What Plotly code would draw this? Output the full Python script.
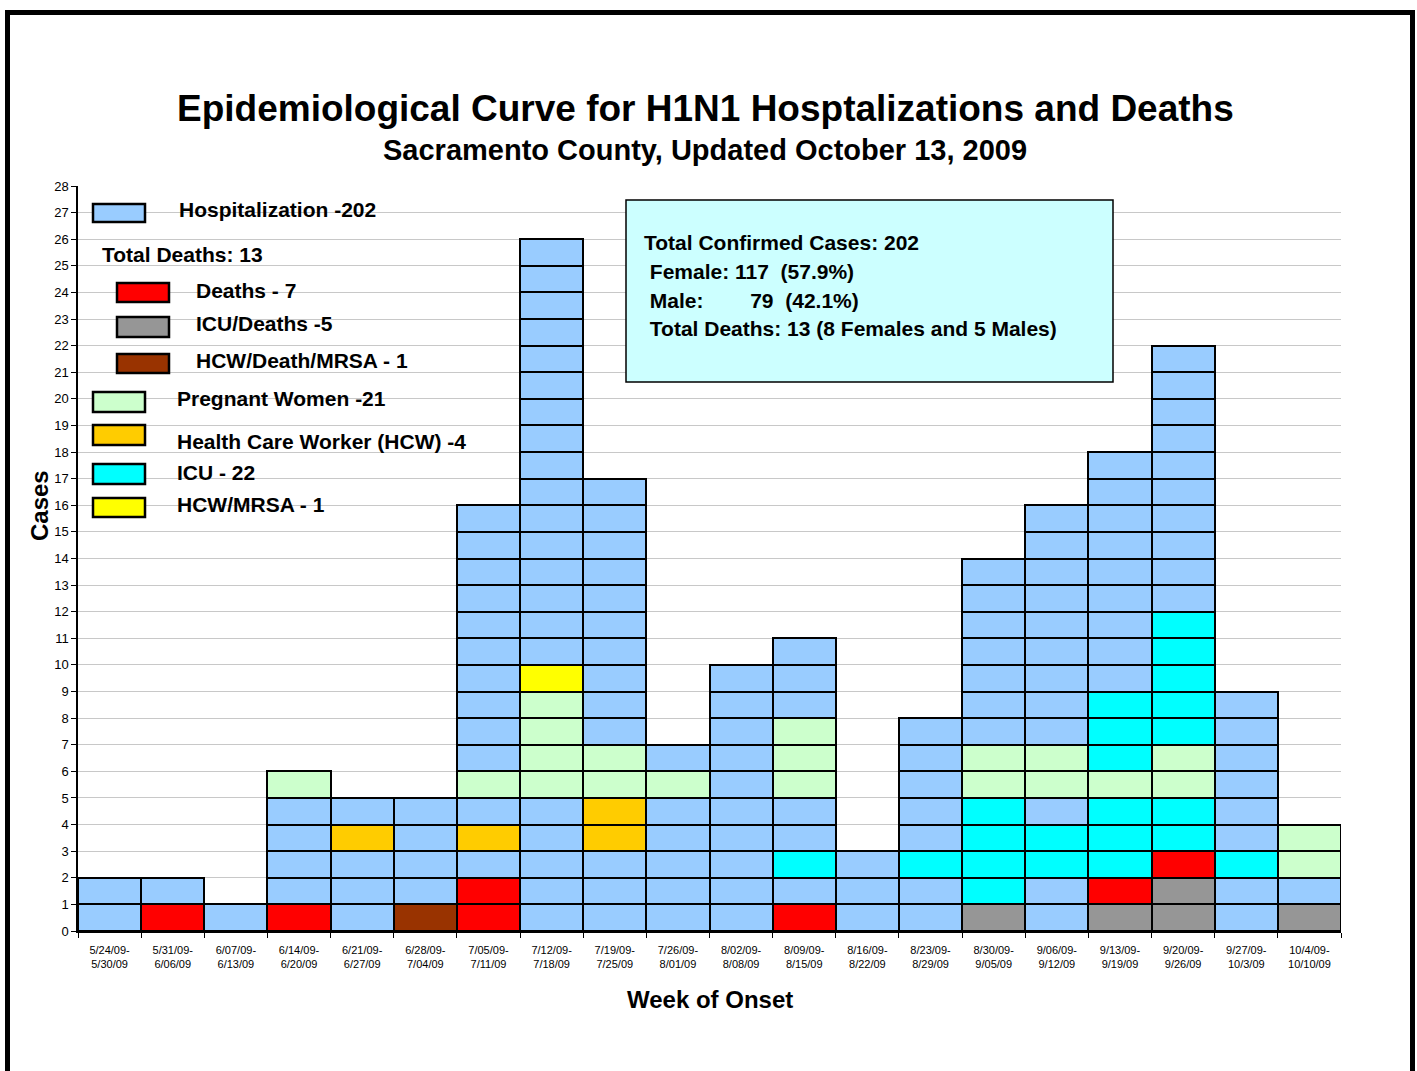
import plotly.graph_objects as go

# ---------------- DATA ----------------
weeks = ["5/24/09-<br>5/30/09", "5/31/09-<br>6/06/09", "6/07/09-<br>6/13/09", "6/14/09-<br>6/20/09",
         "6/21/09-<br>6/27/09", "6/28/09-<br>7/04/09", "7/05/09-<br>7/11/09", "7/12/09-<br>7/18/09",
         "7/19/09-<br>7/25/09", "7/26/09-<br>8/01/09", "8/02/09-<br>8/08/09", "8/09/09-<br>8/15/09",
         "8/16/09-<br>8/22/09", "8/23/09-<br>8/29/09", "8/30/09-<br>9/05/09", "9/06/09-<br>9/12/09",
         "9/13/09-<br>9/19/09", "9/20/09-<br>9/26/09", "9/27/09-<br>10/3/09", "10/4/09-<br>10/10/09"]

# Case categories stacked bottom-to-top for each week (one letter = one case)
# H=Hospitalization, D=Death, G=ICU/Death, B=HCW/Death/MRSA, P=Pregnant, W=HCW, I=ICU, Y=HCW/MRSA
week_cases = [
    "HH",
    "DH",
    "H",
    "DHHHHP",
    "HHHWH",
    "BHHHH",
    "DDHWHP" + "H" * 10,
    "HHHHHPPPPY" + "H" * 16,
    "HHHWWPP" + "H" * 10,
    "HHHHHPH",
    "H" * 10,
    "DHIHHPPPHHH",
    "HHH",
    "HHIHHHHH",
    "GIIIIPP" + "H" * 7,
    "HHIIHPP" + "H" * 9,
    "GDIIIPIII" + "H" * 9,
    "GGDIIPPIIIII" + "H" * 10,
    "HHIHHHHHH",
    "GHPP",
]

category_colors = {
    "H": "#99CCFF", "D": "#FF0000", "G": "#969696", "B": "#993300",
    "P": "#CCFFCC", "W": "#FFCC00", "I": "#00FFFF", "Y": "#FFFF00",
}

legend_labels = ["Hospitalization -202", "Deaths - 7", "ICU/Deaths -5", "HCW/Death/MRSA - 1",
                 "Pregnant Women -21", "Health Care Worker (HCW) -4", "ICU - 22", "HCW/MRSA - 1"]
legend_codes = ["H", "D", "G", "B", "P", "W", "I", "Y"]

title_text = "Epidemiological Curve for H1N1 Hosptalizations and Deaths"
subtitle_text = "Sacramento County, Updated October 13, 2009"
info_lines = ["Total Confirmed Cases: 202", " Female: 117  (57.9%)",
              " Male:        79  (42.1%)", " Total Deaths: 13 (8 Females and 5 Males)"]

# ---------------- LAYOUT GEOMETRY ----------------
W, H = 1417, 1071
ML, MR, MT, MB = 78, 1417 - 1341, 186, 1071 - 931
PW = W - ML - MR
PH = H - MT - MB

def px(x):
    return (x - ML) / PW

def py(y):
    return (H - MB - y) / PH

FONT = "Arial, Liberation Sans, sans-serif"

fig = go.Figure()

max_layers = max(len(s) for s in week_cases)
for k in range(max_layers):
    xs, cols = [], []
    for wi, s in enumerate(week_cases):
        if len(s) > k:
            xs.append(weeks[wi])
            cols.append(category_colors[s[k]])
    fig.add_trace(go.Bar(
        x=xs, y=[1] * len(xs),
        marker=dict(color=cols, line=dict(color="black", width=2.5)),
        showlegend=False, hoverinfo="skip",
    ))

shapes = []
annotations = []

# Outer frame
shapes.append(dict(type="rect", xref="paper", yref="paper",
                   x0=px(7.5), x1=px(1412.5), y0=py(1100), y1=py(12.5),
                   line=dict(color="black", width=5), fillcolor="rgba(0,0,0,0)", layer="above"))

# Titles
annotations.append(dict(text="<b>" + title_text + "</b>", xref="paper", yref="paper",
                        x=px(705), y=py(108), showarrow=False,
                        font=dict(size=37, family=FONT, color="black"), xanchor="center", yanchor="middle"))
annotations.append(dict(text="<b>" + subtitle_text + "</b>", xref="paper", yref="paper",
                        x=px(705), y=py(150), showarrow=False,
                        font=dict(size=29, family=FONT, color="black"), xanchor="center", yanchor="middle"))

# Axis titles
annotations.append(dict(text="<b>Week of Onset</b>", xref="paper", yref="paper",
                        x=px(710), y=py(1000), showarrow=False,
                        font=dict(size=24, family=FONT, color="black"), xanchor="center", yanchor="middle"))
annotations.append(dict(text="<b>Cases</b>", xref="paper", yref="paper",
                        x=px(39), y=py(506), showarrow=False, textangle=-90,
                        font=dict(size=24, family=FONT, color="black"), xanchor="center", yanchor="middle"))

# Legend (custom)
legend_layout = [
    # (swatch x0, x1, y0, y1, text x, text y)
    (93, 145, 204, 222, 177, 209),
    (117, 169, 283, 302, 194, 290),
    (117, 169, 317, 337, 194, 323),
    (117, 169, 354, 373, 194, 360),
    (93, 145, 392, 412, 175, 398),
    (93, 145, 425, 445, 175, 441),
    (93, 145, 464, 484, 175, 473),
    (93, 145, 498, 517, 175, 505),
]
for (x0, x1, y0, y1, tx, ty), code, label in zip(legend_layout, legend_codes, legend_labels):
    shapes.append(dict(type="rect", xref="paper", yref="paper",
                       x0=px(x0), x1=px(x1), y0=py(y1), y1=py(y0),
                       fillcolor=category_colors[code], line=dict(color="black", width=2.5), layer="above"))
    annotations.append(dict(text="<b>" + label + "</b>", xref="paper", yref="paper",
                            x=px(tx), y=py(ty), showarrow=False, xanchor="left", yanchor="middle",
                            font=dict(size=21, family=FONT, color="black")))
annotations.append(dict(text="<b>Total Deaths: 13</b>", xref="paper", yref="paper",
                        x=px(100), y=py(254), showarrow=False, xanchor="left", yanchor="middle",
                        font=dict(size=21, family=FONT, color="black")))

# Info box
shapes.append(dict(type="rect", xref="paper", yref="paper",
                   x0=px(626), x1=px(1113), y0=py(382), y1=py(200),
                   fillcolor="#CCFFFF", line=dict(color="black", width=1.5), layer="above"))
for i, line in enumerate(info_lines):
    annotations.append(dict(text="<b>" + line.replace(" ", "&nbsp;") + "</b>", xref="paper", yref="paper",
                            x=px(642), y=py(243 + i * 28.5), showarrow=False, xanchor="left", yanchor="middle",
                            font=dict(size=21, family=FONT, color="black")))

fig.update_layout(
    width=W, height=H,
    margin=dict(l=ML, r=MR, t=MT, b=MB, autoexpand=False),
    paper_bgcolor="white", plot_bgcolor="white",
    barmode="stack", bargap=0,
    font=dict(family=FONT, color="black"),
    shapes=shapes, annotations=annotations,
    xaxis=dict(type="category", categoryorder="array", categoryarray=weeks,
               range=[-0.5, len(weeks) - 0.5],
               showline=True, linecolor="black", linewidth=1.5,
               ticks="outside", tickson="boundaries", ticklen=5, tickcolor="black", tickwidth=1,
               tickfont=dict(size=11, family=FONT, color="black"), tickangle=0,
               ticklabelstandoff=8,
               showgrid=False, zeroline=False),
    yaxis=dict(range=[0, 28], dtick=1, tick0=0,
               showline=True, linecolor="black", linewidth=1.5,
               ticks="outside", ticklen=5, tickcolor="black", tickwidth=1,
               tickfont=dict(size=13, family=FONT, color="black"),
               showgrid=True, gridcolor="#C8C8C8", gridwidth=1, zeroline=False),
)

fig.write_html("out.html", config={"displayModeBar": False},
               post_script="document.body.style.margin='0px';document.body.style.overflow='hidden';")
